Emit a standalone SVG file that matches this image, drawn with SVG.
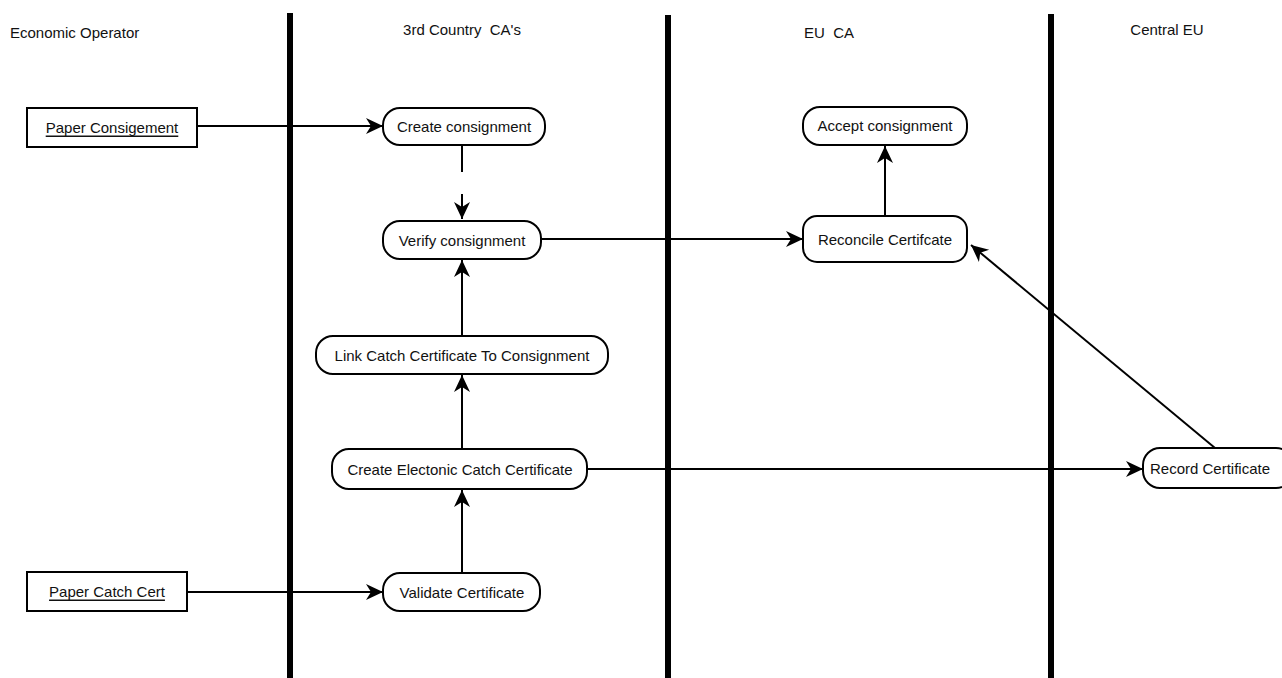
<svg xmlns="http://www.w3.org/2000/svg" width="1282" height="678" viewBox="0 0 1282 678">
<style>
  text { font-family: "Liberation Sans", Arial, sans-serif; font-size: 15px; fill: #111; }
  .lbl { text-anchor: middle; dominant-baseline: central; }
  .act { fill: #fff; stroke: #000; stroke-width: 2; }
  .obj { fill: #fff; stroke: #000; stroke-width: 2; }
  .lane { stroke: #000; stroke-width: 6; }
  .con { stroke: #000; stroke-width: 2; fill: none; }
  .u { text-decoration: underline; }
</style>
<defs>
  <marker id="arr" markerUnits="userSpaceOnUse" markerWidth="20" markerHeight="18" refX="17" refY="8" orient="auto">
    <path d="M0,0 L17,8 L0,16 L5,8 z" fill="#000"/>
  </marker>
</defs>
<rect width="1282" height="678" fill="#fff"/>
<g id="lanes">
  <line class="lane" x1="290" y1="13" x2="290" y2="678"/>
  <line class="lane" x1="668" y1="15" x2="668" y2="678"/>
  <line class="lane" x1="1051" y1="14" x2="1051" y2="678"/>
  <text x="10" y="32" dominant-baseline="central">Economic Operator</text>
  <text class="lbl" x="462" y="29">3rd Country &#160;CA's</text>
  <text class="lbl" x="829" y="32">EU &#160;CA</text>
  <text class="lbl" x="1167" y="29">Central EU</text>
</g>
<g id="connectors">
  <line class="con" x1="197" y1="126" x2="383" y2="126" marker-end="url(#arr)"/>
  <line class="con" x1="462" y1="146" x2="462" y2="172"/>
  <line class="con" x1="462" y1="194" x2="462" y2="219" marker-end="url(#arr)"/>
  <line class="con" x1="541" y1="239" x2="803" y2="239" marker-end="url(#arr)"/>
  <line class="con" x1="885" y1="216" x2="885" y2="146" marker-end="url(#arr)"/>
  <line class="con" x1="462" y1="336" x2="462" y2="260" marker-end="url(#arr)"/>
  <line class="con" x1="462" y1="449" x2="462" y2="375" marker-end="url(#arr)"/>
  <line class="con" x1="462" y1="573" x2="462" y2="490" marker-end="url(#arr)"/>
  <line class="con" x1="187" y1="592" x2="383" y2="592" marker-end="url(#arr)"/>
  <line class="con" x1="587" y1="469" x2="1143" y2="469" marker-end="url(#arr)"/>
  <line class="con" x1="1215" y1="448" x2="971" y2="245" marker-end="url(#arr)"/>
</g>
<g id="paper-consigement">
  <rect class="obj" x="27" y="108" width="170" height="39"/>
  <text class="lbl u" x="112" y="127">Paper Consigement</text>
</g>
<g id="paper-catch-cert">
  <rect class="obj" x="27" y="572" width="160" height="39"/>
  <text class="lbl u" x="107" y="591">Paper Catch Cert</text>
</g>
<g id="create-consignment">
  <rect class="act" x="383" y="108" width="162" height="37" rx="17"/>
  <text class="lbl" x="464" y="126">Create consignment</text>
</g>
<g id="verify-consignment">
  <rect class="act" x="383" y="221" width="158" height="38" rx="17"/>
  <text class="lbl" x="462" y="240">Verify consignment</text>
</g>
<g id="link-catch">
  <rect class="act" x="316" y="336" width="292" height="38" rx="17"/>
  <text class="lbl" x="462" y="355">Link Catch Certificate To Consignment</text>
</g>
<g id="create-electronic">
  <rect class="act" x="332" y="449" width="255" height="40" rx="17"/>
  <text class="lbl" x="460" y="469">Create Electonic Catch Certificate</text>
</g>
<g id="validate-certificate">
  <rect class="act" x="383" y="573" width="157" height="38" rx="17"/>
  <text class="lbl" x="462" y="592">Validate Certificate</text>
</g>
<g id="accept-consignment">
  <rect class="act" x="803" y="107" width="164" height="38" rx="17"/>
  <text class="lbl" x="885" y="125">Accept consignment</text>
</g>
<g id="reconcile-certificate">
  <rect class="act" x="803" y="216" width="164" height="46" rx="14"/>
  <text class="lbl" x="885" y="239">Reconcile Certifcate</text>
</g>
<g id="record-certificate">
  <rect class="act" x="1143" y="448" width="150" height="40" rx="17"/>
  <text class="lbl" x="1210" y="468">Record Certificate</text>
</g>
</svg>
